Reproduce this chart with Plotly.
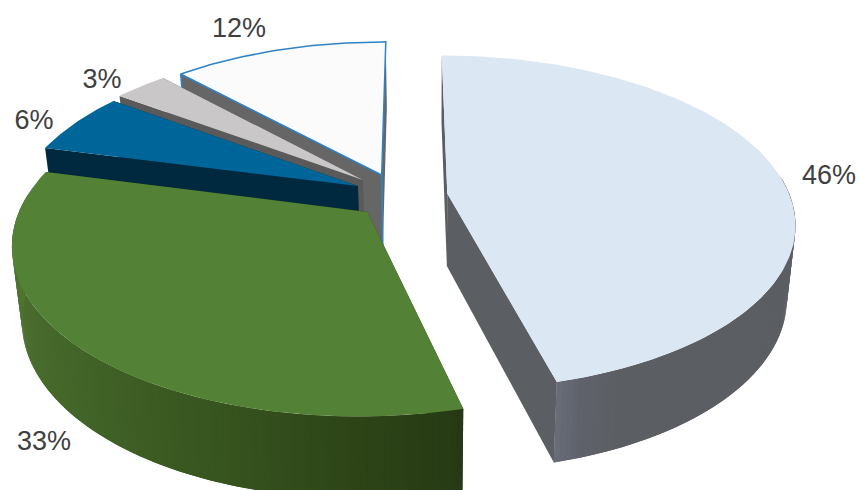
import numpy as np
import plotly.graph_objects as go

# Share of each slice, clockwise from twelve o'clock
categories = ["A", "B", "C", "D", "E"]
values = [46, 33, 6, 3, 12]
value_labels = ["46%", "33%", "6%", "3%", "12%"]

# Styling per slice
top_colors = ["#dbe7f3", "#538135", "#006699", "#c9c7c8", "#fbfbfc"]
face_colors = ["#5b5f63", "#263914", "#00293f", "#5a5a5a", "#666666"]
# Outer wall shading: (clock angle, colour) stops
wall_stops = [
    [(0, "#5b5f63"), (156, "#5b5e63"), (162, "#5f626b"), (165.6, "#696d79")],
    [(165.6, "#263914"), (180, "#2d4417"), (200, "#37551f"), (225, "#426428"), (250, "#4d7030"), (284.4, "#537c33")],
    [(284, "#00293f"), (306, "#00293f")],
    [(306, "#5a5a5a"), (317, "#5a5a5a")],
    [(316, "#666666"), (360, "#666666")],
]
# Slice offsets on the pie plane (exploded positions)
offset_x = [0.109, -0.122, -0.1535, -0.1396, -0.0845]
offset_y = [0.070, -0.042, 0.1167, 0.1548, 0.1868]

# Label anchors in pixels
label_x = [829, 44, 34, 102, 239]
label_y = [177, 443, 122, 81, 30]

OUTLINE = "#2e83c5"
X0, Y0, A, B, K = 410.0, 205.0, 346.0, 166.0, 0.175


def project(px, py):
    """Perspective projection of pie-plane coordinates to the top surface."""
    s = 1.0 / (1.0 + K * py)
    return X0 + A * px * s, Y0 - B * py * s, s


def drop(x, y, s):
    """Matching point on the underside of the pie."""
    return 430 + (x - 430) * 0.976, y + 33 + 40 * s


def hex_rgb(c):
    return [int(c[i:i + 2], 16) for i in (1, 3, 5)]


def wall_color(stops, ang):
    angs = [a for a, _ in stops]
    rgb = np.array([hex_rgb(c) for _, c in stops], float)
    vals = [np.interp(ang, angs, rgb[:, i]) for i in range(3)]
    return "rgb(%d,%d,%d)" % tuple(int(round(v)) for v in vals)


def polygon(xs, ys, color):
    return go.Scatter(
        x=list(xs) + [xs[0]], y=list(ys) + [ys[0]], mode="lines", fill="toself",
        fillcolor=color, line=dict(width=0),
        hoverinfo="skip", showlegend=False,
    )


fig = go.Figure()
angles = np.cumsum([0] + [v * 3.6 for v in values])

# Slices at the back are painted first
for i in [4, 3, 2, 1, 0]:
    th0, th1 = angles[i], angles[i + 1]
    n = max(int((th1 - th0) * 1.2), 6)
    th = np.linspace(th0, th1, n)
    rad = np.radians(th)
    px = offset_x[i] + np.sin(rad)
    py = offset_y[i] + np.cos(rad)
    ax, ay, asc = project(offset_x[i], offset_y[i])
    x, y, s = project(px, py)
    bx, by = drop(x, y, s)
    abx, aby = drop(ax, ay, asc)

    # Cut faces along both radii
    for j in (0, -1):
        fig.add_trace(polygon([ax, x[j], bx[j], abx], [ay, y[j], by[j], aby], face_colors[i]))

    # Outer wall as overlapping shaded strips; the far side is hidden by the top
    for j in range(n - 1):
        mid = 0.5 * (th[j] + th[j + 1])
        if np.cos(np.radians(mid)) > 0.1:
            continue
        k = min(j + 2, n - 1)
        fig.add_trace(polygon(
            list(x[j:k + 1]) + list(bx[j:k + 1])[::-1],
            list(y[j:k + 1]) + list(by[j:k + 1])[::-1],
            wall_color(wall_stops[i], mid),
        ))

    # Top surface
    fig.add_trace(polygon([ax] + list(x), [ay] + list(y), top_colors[i]))

    # The back slice carries a thin outline
    if i == 4:
        for lx, ly in (
            ([abx, ax] + list(x) + [ax], [aby, ay] + list(y) + [ay]),
            ([x[0], bx[0]], [y[0], by[0]]),
        ):
            fig.add_trace(go.Scatter(
                x=lx, y=ly, mode="lines", line=dict(color=OUTLINE, width=1.5),
                hoverinfo="skip", showlegend=False,
            ))

fig.add_trace(go.Scatter(
    x=label_x, y=label_y, text=value_labels, mode="text",
    textposition="middle center",
    textfont=dict(family="Liberation Sans", size=27, color="#404040"),
    hoverinfo="skip", showlegend=False,
))

fig.update_layout(
    width=859, height=490, autosize=False,
    margin=dict(l=0, r=0, t=0, b=0),
    paper_bgcolor="white", plot_bgcolor="white",
    xaxis=dict(range=[0, 859], visible=False, fixedrange=True),
    yaxis=dict(range=[490, 0], visible=False, fixedrange=True),
)
fig.write_html("out.html", config={"displayModeBar": False})
